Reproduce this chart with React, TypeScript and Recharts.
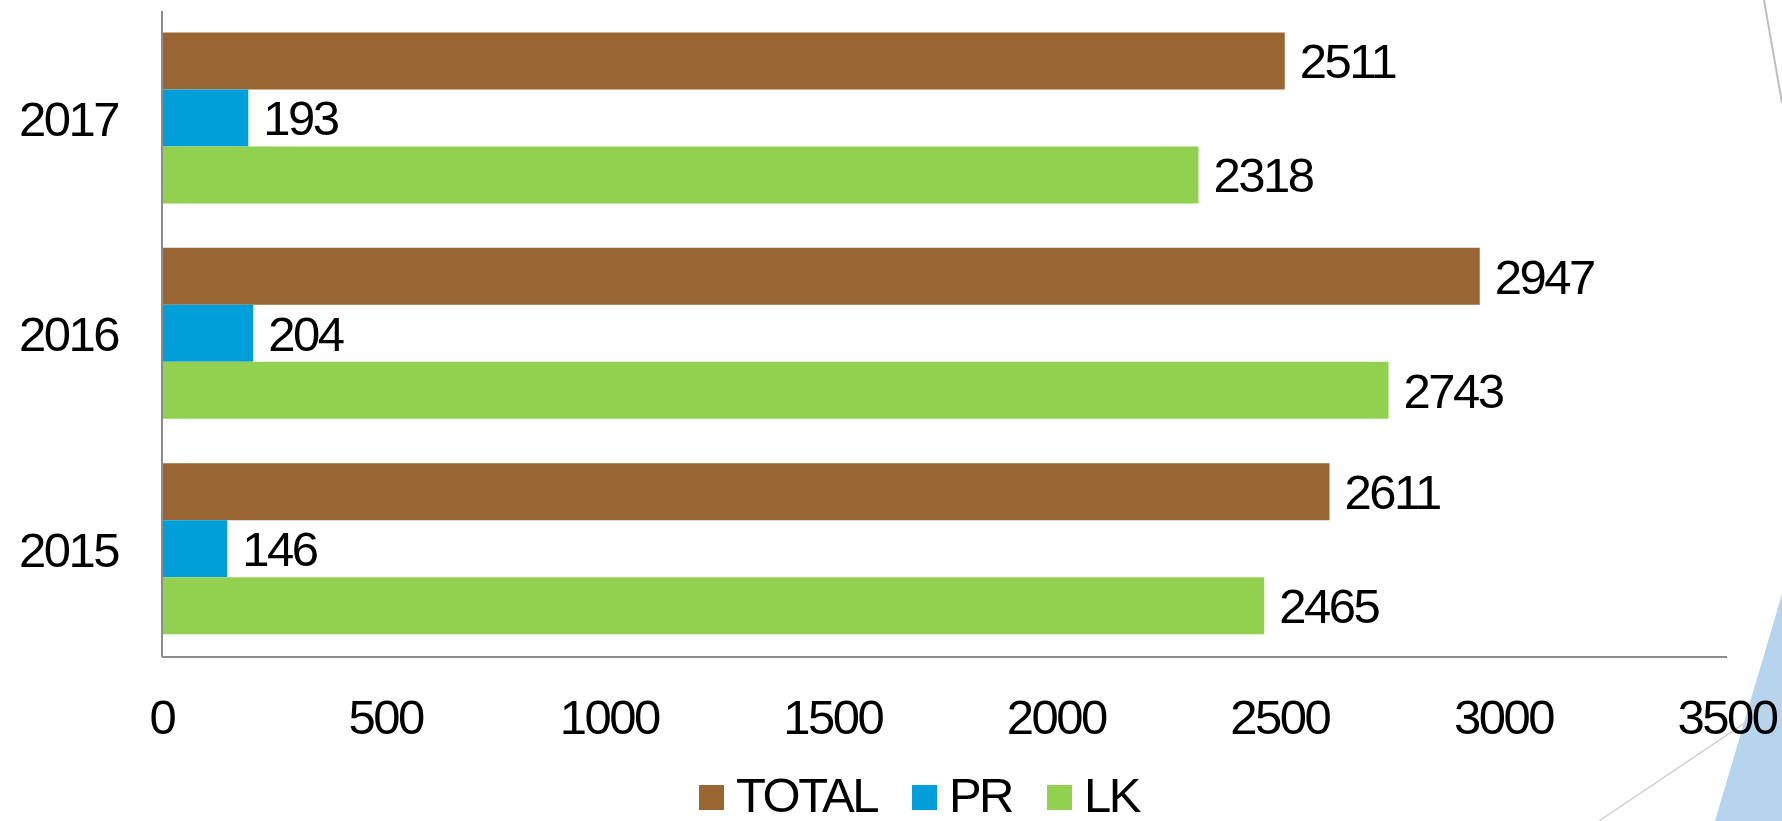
import React from "react";
import { BarChart, Bar, XAxis, YAxis, Legend, LabelList } from "recharts";

const years = ["2017", "2016", "2015"];
const totalValues = [2511, 2947, 2611];
const prValues = [193, 204, 146];
const lkValues = [2318, 2743, 2465];
const xTicks = [0, 500, 1000, 1500, 2000, 2500, 3000, 3500];

const seriesNames = ["TOTAL", "PR", "LK"];
const seriesColors = ["#996633", "#009FDA", "#92D050"];

const data = years.map((y, i) => ({
  year: y,
  TOTAL: totalValues[i],
  PR: prValues[i],
  LK: lkValues[i],
}));

const FONT = "'Liberation Sans', Arial, sans-serif";
const FS = 49;
const LS = -2.5;

const renderLegend = () => (
  <div
    style={{
      display: "flex",
      alignItems: "center",
      paddingLeft: 699,
      fontFamily: FONT,
      fontSize: FS,
      lineHeight: `${FS}px`,
      letterSpacing: LS,
      color: "#000",
    }}
  >
    {seriesNames.map((n, i) => (
      <div
        key={n}
        style={{ display: "flex", alignItems: "center", marginLeft: i === 0 ? 0 : 35 }}
      >
        <div style={{ width: 25, height: 25, background: seriesColors[i], marginRight: 12, marginTop: 3 }} />
        <span>{n}</span>
      </div>
    ))}
  </div>
);

export default function App() {
  const tickStyle = { fill: "#000", fontSize: FS, fontFamily: FONT, letterSpacing: LS };
  return (
    <div style={{ position: "absolute", left: 0, top: 0, width: 1782, height: 821, background: "#fff" }}>
      <svg width={1782} height={821} style={{ position: "absolute", left: 0, top: 0 }}>
        <polygon points="1715,821 1782,594 1782,821" fill="#B7D4EE" />
        <line x1={1599} y1={821} x2={1782} y2={698} stroke="#D0D0D0" strokeWidth={1.5} />
        <line x1={1764} y1={0} x2={1782} y2={103} stroke="#BFBFBF" strokeWidth={2} />
      </svg>
      <div style={{ position: "absolute", left: 0, top: 0 }}>
        <BarChart
          width={1782}
          height={821}
          layout="vertical"
          data={data}
          margin={{ top: 11, right: 55, bottom: 0, left: 0 }}
          barCategoryGap="10%"
          barGap={0}
        >
          <XAxis
            type="number"
            domain={[0, 3500]}
            ticks={xTicks}
            interval={0}
            height={164}
            axisLine={{ stroke: "#8C8C8C", strokeWidth: 2 }}
            tickLine={false}
            tickSize={0}
            tickMargin={42}
            tick={tickStyle}
          />
          <YAxis
            type="category"
            dataKey="year"
            width={162}
            axisLine={{ stroke: "#8C8C8C", strokeWidth: 2 }}
            tickLine={false}
            tickSize={0}
            tickMargin={44}
            tick={tickStyle}
          />
          <Legend
            verticalAlign="middle"
            align="center"
            layout="horizontal"
            wrapperStyle={{ top: 771, left: 0, width: 1782 }}
            content={renderLegend}
          />
          {seriesNames.map((n, i) => (
            <Bar key={n} dataKey={n} fill={seriesColors[i]} isAnimationActive={false}>
              <LabelList
                dataKey={n}
                position="right"
                offset={15}
                fill="#000"
                fontSize={FS}
                fontFamily={FONT}
                letterSpacing={LS}
              />
            </Bar>
          ))}
        </BarChart>
      </div>
    </div>
  );
}
